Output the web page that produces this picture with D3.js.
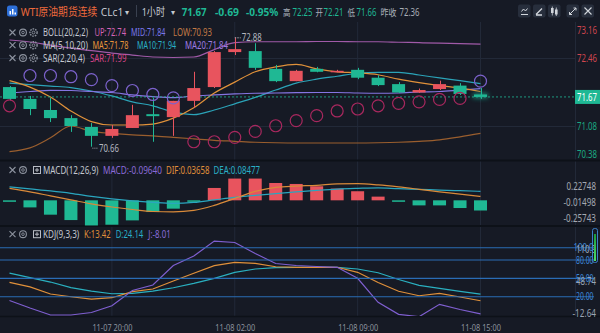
<!DOCTYPE html>
<html><head><meta charset="utf-8">
<script src="https://cdn.jsdelivr.net/npm/d3@7"></script>
<style>
html,body{margin:0;padding:0;background:#161a25;overflow:hidden}
svg{display:block}
text{font-family:"Noto Sans","Noto Sans CJK SC",sans-serif}
</style></head><body>
<svg id="c" width="600" height="333"></svg>
<script>
// ---- data: WTI crude continuous (CLc1), 1-hour bars ----
const times = ["11-07 15:00","11-07 16:00","11-07 17:00","11-07 18:00","11-07 19:00","11-07 20:00",
  "11-07 21:00","11-07 22:00","11-07 23:00","11-08 00:00","11-08 01:00","11-08 02:00","11-08 03:00",
  "11-08 04:00","11-08 05:00","11-08 07:00","11-08 08:00","11-08 09:00","11-08 10:00","11-08 11:00",
  "11-08 12:00","11-08 13:00","11-08 14:00","11-08 15:00"];
const opens  = [71.87,71.63,71.405,71.24,71.06,70.88,71.04,71.32,71.26,71.59,71.87,72.58,72.60,72.24,71.99,72.24,72.18,72.22,72.06,71.93,71.76,71.83,71.90,71.72];
const highs  = [71.89,71.69,71.65,71.30,71.14,71.10,71.51,71.65,71.59,72.18,72.60,72.88,72.76,72.32,72.22,72.28,72.22,72.26,72.11,71.97,71.84,72.00,71.95,71.85];
const lows   = [71.60,71.30,71.16,70.96,70.66,70.84,71.04,70.76,70.88,71.45,71.85,72.52,72.22,71.97,71.99,72.17,72.17,72.03,71.89,71.75,71.75,71.81,71.71,71.63];
const closes = [71.63,71.425,71.24,71.08,70.88,71.02,71.30,71.28,71.59,71.85,72.58,72.64,72.26,71.99,72.20,72.18,72.20,72.06,71.91,71.76,71.81,71.93,71.73,71.67];

const bollUp  = [72.825,72.785,72.72,72.66,72.61,72.56,72.52,72.48,72.47,72.48,72.63,72.77,72.79,72.79,72.79,72.795,72.795,72.79,72.79,72.78,72.77,72.76,72.75,72.74];
const bollMid = [71.75,71.78,71.805,71.80,71.78,71.76,71.71,71.675,71.655,71.69,71.71,71.73,71.745,71.75,71.756,71.76,71.76,71.75,71.745,71.75,71.77,71.78,71.81,71.84];
const bollLow = [70.56,70.635,70.84,71.08,70.97,70.93,70.90,70.88,70.85,70.82,70.79,70.77,70.75,70.74,70.735,70.735,70.735,70.735,70.74,70.75,70.77,70.80,70.86,70.93];
const ma5  = [72.00,71.87,71.67,71.385,71.17,71.10,71.10,71.12,71.24,71.45,71.75,71.97,72.18,72.28,72.33,72.24,72.18,72.16,72.12,72.03,71.96,71.90,71.85,71.78];
const ma10 = [71.95,71.92,71.89,71.86,71.79,71.69,71.57,71.49,71.365,71.31,71.405,71.53,71.66,71.81,71.95,72.03,72.09,72.15,72.17,72.17,72.115,72.055,72.00,71.94];
const sar  = [71.49,72.105,72.105,72.08,72.02,71.90,71.80,71.72,71.65,70.76,70.76,70.85,70.97,71.085,71.19,71.29,71.385,71.425,71.49,71.54,71.57,71.62,71.64,71.99];

const dif  = [0.113,0.080,0.042,0.004,-0.034,-0.063,-0.087,-0.106,-0.110,-0.096,-0.048,0.018,0.085,0.123,0.135,0.142,0.156,0.158,0.146,0.127,0.104,0.080,0.059,0.03658];
const dea  = [0.127,0.108,0.089,0.066,0.037,0.013,-0.006,-0.020,-0.029,-0.020,0.004,0.028,0.047,0.063,0.080,0.094,0.106,0.113,0.118,0.110,0.104,0.097,0.091,0.08477];
const macdHist = [-0.010,-0.067,-0.136,-0.187,-0.238,-0.231,-0.190,-0.111,-0.079,-0.010,0.117,0.206,0.206,0.164,0.155,0.133,0.111,0.086,0.035,-0.012,-0.048,-0.048,-0.073,-0.0964];

const kVals = [43.5,36.2,24.4,20.0,16.2,18.4,28.2,32.6,45.7,58.3,70.7,76.2,74.6,69.0,68.1,68.1,68.1,59.9,43.2,29.0,21.6,25.6,19.5,13.42];
const dVals = [58.7,51.1,44.0,35.0,29.3,24.9,25.6,29.3,34.7,41.9,50.1,59.9,65.3,67.4,68.1,68.1,68.1,65.3,59.2,48.1,38.6,33.7,28.8,24.14];
const jVals = [13.8,1.5,-9.9,-9.9,-5.8,5.3,30.1,39.1,71.0,86.5,110.9,108.6,90.6,74.3,71.0,69.4,68.1,50.1,10.8,-8.8,-12.64,7.6,-0.9,-8.01];

const timeTicks = ["11-07 20:00","11-08 02:00","11-08 09:00","11-08 15:00"];
const priceTicks = [73.16,72.46,71.08,70.38];
const macdTicks = [0.22748,-0.01498,-0.25743];
const kdjLevels = [100,80,50,20];
const kdjRangeTicks = [110.9,48.74,-12.64];
const lastPrice = 71.67;

// ---- palette ----
const C = {
  bg:"#161a25", grid:"#222938", sep:"#0d1118", text:"#c4c8d0", dim:"#8c929e",
  up:"#e8545e", down:"#1fb894",
  bUp:"#a05aa8", bMid:"#8575e2", bLow:"#9a5e2e", ma5:"#e0913a", ma10:"#2ba3b8",
  sarHi:"#7c62cc", sarLo:"#a8285e",
  dif:"#d98a3a", dea:"#2aa6bf", kC:"#e0903a", dC:"#2ab0c0", jC:"#7f5fd0", lvl:"#2a6cb5"
};

const svg = d3.select("#c");
const W = 600, PLOT_R = 575;

// scales
const x = d3.scalePoint().domain(times).range([9.5, 480.5]);
const yP = d3.scaleLinear().domain([70.38, 73.16]).range([160.5, 23.5]);
const yM = d3.scaleLinear().domain([-0.25743, 0.22748]).range([227.5, 176.3]);
const yK = d3.scaleLinear().domain([-12.64, 110.9]).range([316.7, 241.1]);
const xi = i => x(times[i]);

svg.append("rect").attr("width", W).attr("height", 333).attr("fill", C.bg);

const defs = svg.append("defs");
defs.append("clipPath").attr("id","cpMain").append("rect").attr("x",0).attr("y",22).attr("width",PLOT_R).attr("height",139);
defs.append("clipPath").attr("id","cpMacd").append("rect").attr("x",0).attr("y",162).attr("width",PLOT_R).attr("height",64);
defs.append("clipPath").attr("id","cpKdj").append("rect").attr("x",0).attr("y",227).attr("width",PLOT_R).attr("height",89);
const glow = defs.append("filter").attr("id","glow").attr("x","-100%").attr("y","-200%").attr("width","300%").attr("height","500%");
glow.append("feGaussianBlur").attr("stdDeviation",2.5);

// text helper: narrow face look — the glyphs are squeezed horizontally to a target width
function T(g, px, py, s, fill, size, opt = {}) {
  const t = g.append("text").attr("x", 0).attr("y", 0).text(s)
    .attr("fill", fill).attr("font-size", size);
  if (opt.weight) t.attr("font-weight", opt.weight);
  let sx = 1, w = opt.w;
  if (w) {
    const natural = t.node().getComputedTextLength();
    sx = natural > 0 ? w / natural : 1;
  } else {
    w = t.node().getComputedTextLength();
  }
  const left = opt.right ? px - w : opt.center ? px - w / 2 : px;
  t.attr("transform", `translate(${left},${py}) scale(${sx},1)`);
  return t;
}

// ---- grid ----
const grid = svg.append("g");
timeTicks.forEach(t => {
  grid.append("line").attr("x1", x(t)).attr("x2", x(t)).attr("y1", 22).attr("y2", 316)
    .attr("stroke", C.grid).attr("stroke-width", 1);
});
[72.46, 71.08].forEach(v => {
  grid.append("line").attr("x1", 0).attr("x2", PLOT_R).attr("y1", Math.round(yP(v)) + 0.5).attr("y2", Math.round(yP(v)) + 0.5)
    .attr("stroke", C.grid);
});
grid.append("line").attr("x1", PLOT_R + 0.5).attr("x2", PLOT_R + 0.5).attr("y1", 22).attr("y2", 316).attr("stroke", C.grid);

// pane separators
[[160.5,2],[226,2],[316.5,1.5]].forEach(([yy, sw]) => {
  svg.append("line").attr("x1", 0).attr("x2", W).attr("y1", yy).attr("y2", yy).attr("stroke", C.sep).attr("stroke-width", sw);
});

// ---- main pane ----
const main = svg.append("g").attr("clip-path", "url(#cpMain)");
const lineP = d3.line().x((d, i) => xi(i)).y(d => yP(d)).curve(d3.curveMonotoneX);
[[bollUp, C.bUp], [bollLow, C.bLow], [ma10, C.ma10], [bollMid, C.bMid], [ma5, C.ma5]].forEach(([arr, col]) => {
  main.append("path").attr("d", lineP(arr)).attr("fill", "none").attr("stroke", col).attr("stroke-width", 1.2);
});

// last price dotted line
main.append("line").attr("x1", 0).attr("x2", PLOT_R).attr("y1", yP(lastPrice)).attr("y2", yP(lastPrice))
  .attr("stroke", C.down).attr("stroke-width", 1).attr("stroke-dasharray", "2,2").attr("opacity", 0.8);

// candles
const bw = 13;
const last = times.length - 1;
main.append("rect")
  .attr("x", xi(last) - bw / 2 - 1).attr("y", yP(Math.max(opens[last], closes[last])) - 1)
  .attr("width", bw + 2).attr("height", Math.abs(yP(opens[last]) - yP(closes[last])) + 2)
  .attr("fill", C.down).attr("opacity", 0.8).attr("filter", "url(#glow)");
times.forEach((t, i) => {
  const up = closes[i] >= opens[i];
  const col = up ? C.up : C.down;
  const cx = Math.round(xi(i)) + 0.5;
  main.append("line").attr("x1", cx).attr("x2", cx).attr("y1", yP(highs[i])).attr("y2", yP(lows[i]))
    .attr("stroke", col).attr("stroke-width", 1);
  const top = yP(Math.max(opens[i], closes[i]));
  const h = Math.max(1.5, Math.abs(yP(opens[i]) - yP(closes[i])));
  main.append("rect").attr("x", xi(i) - bw / 2).attr("y", top).attr("width", bw).attr("height", h).attr("fill", col);
});

// SAR dots
sar.forEach((v, i) => {
  main.append("circle").attr("cx", xi(i)).attr("cy", yP(v)).attr("r", 6)
    .attr("fill", "none").attr("stroke", v > closes[i] ? C.sarHi : C.sarLo).attr("stroke-width", 1.2);
});

// extreme markers
const hiIdx = d3.maxIndex(highs), loIdx = d3.minIndex(lows);
const mk = svg.append("g");
mk.append("line").attr("x1", xi(hiIdx)).attr("x2", xi(hiIdx) + 6).attr("y1", yP(highs[hiIdx]) + 0.5).attr("y2", yP(highs[hiIdx]) + 0.5)
  .attr("stroke", "#9aa0aa").attr("stroke-dasharray", "1.5,1");
T(mk, xi(hiIdx) + 7, yP(highs[hiIdx]) + 3.5, highs[hiIdx].toFixed(2), "#b4b8c0", 10, {w: 20});
mk.append("line").attr("x1", xi(loIdx) + 1).attr("x2", xi(loIdx) + 7).attr("y1", yP(lows[loIdx]) + 1.5).attr("y2", yP(lows[loIdx]) + 1.5)
  .attr("stroke", "#9aa0aa").attr("stroke-dasharray", "1,1");
T(mk, xi(loIdx) + 7.5, yP(lows[loIdx]) + 5.5, lows[loIdx].toFixed(2), "#b4b8c0", 10, {w: 20});

// price axis labels
const pAx = svg.append("g");
priceTicks.forEach(v => {
  const yy = Math.min(158, Math.max(34, yP(v) + 3.8));
  T(pAx, 597, yy, v.toFixed(2), v > lastPrice ? "#d0464f" : "#1ba882", 10.5, {right: true, w: 20});
});
pAx.append("rect").attr("x", 575).attr("y", yP(lastPrice) - 7).attr("width", 25).attr("height", 14).attr("fill", C.down);
T(pAx, 597, yP(lastPrice) + 3.8, lastPrice.toFixed(2), "#ffffff", 10.5, {right: true, w: 20});

// ---- MACD pane ----
const mg = svg.append("g").attr("clip-path", "url(#cpMacd)");
macdHist.forEach((v, i) => {
  const y0 = yM(0), y1 = yM(v);
  const h = Math.max(1.5, Math.abs(y1 - y0));
  mg.append("rect").attr("x", xi(i) - bw / 2).attr("y", v >= 0 ? y0 - h : y0).attr("width", bw).attr("height", h)
    .attr("fill", v >= 0 ? C.up : C.down);
});
const lineM = d3.line().x((d, i) => xi(i)).y(d => yM(d)).curve(d3.curveMonotoneX);
mg.append("path").attr("d", lineM(dea)).attr("fill", "none").attr("stroke", C.dea).attr("stroke-width", 1.2);
mg.append("path").attr("d", lineM(dif)).attr("fill", "none").attr("stroke", C.dif).attr("stroke-width", 1.2);
const mAx = svg.append("g");
macdTicks.forEach(v => {
  const yy = Math.min(221.5, Math.max(190, yM(v) + 3.8));
  T(mAx, 596, yy, v.toFixed(5), "#a4a9b2", 10.5, {right: true, w: v < 0 ? 32.5 : 29.5});
});

// ---- KDJ pane ----
const kg = svg.append("g").attr("clip-path", "url(#cpKdj)");
kdjLevels.forEach(v => {
  svg.append("line").attr("x1", 0).attr("x2", 594).attr("y1", yK(v)).attr("y2", yK(v)).attr("stroke", C.lvl).attr("stroke-width", 1.2);
});
const lineK = d3.line().x((d, i) => xi(i)).y(d => yK(d));
[[dVals, C.dC], [kVals, C.kC], [jVals, C.jC]].forEach(([arr, col]) => {
  kg.append("path").attr("d", lineK(arr)).attr("fill", "none").attr("stroke", col).attr("stroke-width", 1.2);
});
// level labels and range labels share the right edge and sit on top of each other there
const kAx = svg.append("g");
kdjLevels.forEach(v => {
  T(kAx, 593.5, yK(v) + 3.5, v >= 100 ? v.toFixed(1) : v.toFixed(2), "#3d86d6", 10, {right: true, w: v >= 100 ? 20 : 17.5});
});
kdjRangeTicks.forEach(v => {
  const yy = Math.min(316.5, Math.max(253, yK(v) + 5.5));
  T(kAx, 596, yy, v.toFixed(2).replace(/^(\d{3}\.\d)\d$/, "$1"), "#9aa4b4", 10, {right: true, w: v < 0 ? 23.5 : 20});
});
// scroll handle
svg.append("rect").attr("x", 592.5).attr("y", 228.5).attr("width", 5).attr("height", 34).attr("rx", 2)
  .attr("fill", "none").attr("stroke", "#3b7fc8").attr("stroke-width", 1);
const sg = defs.append("linearGradient").attr("id", "sg").attr("x1", 0).attr("x2", 0).attr("y1", 0).attr("y2", 1);
sg.append("stop").attr("offset", "0").attr("stop-color", "#1a9a3a");
sg.append("stop").attr("offset", "1").attr("stop-color", "#4ee06a");
svg.append("rect").attr("x", 594).attr("y", 234).attr("width", 2).attr("height", 27).attr("fill", "url(#sg)");

// ---- time axis ----
const tAx = svg.append("g").attr("transform", "translate(0,318)")
  .call(d3.axisBottom(x).tickValues(timeTicks).tickSize(0).tickPadding(6));
tAx.select(".domain").remove();
tAx.selectAll("text").attr("fill", "#8c929e").attr("font-size", 9.5).attr("font-family", "Noto Sans, sans-serif")
  .attr("textLength", 40).attr("lengthAdjust", "spacingAndGlyphs");

// ---- legend rows ----
function rowIcons(g, yc, third) {
  const ic = "#8c929e";
  g.append("path").attr("d", `M9.5,${yc-3}L15.5,${yc+3}M15.5,${yc-3}L9.5,${yc+3}`).attr("stroke", ic).attr("stroke-width", 1.1);
  g.append("circle").attr("cx", 23).attr("cy", yc).attr("r", 3.4).attr("fill", "none").attr("stroke", ic).attr("stroke-width", 1.1);
  g.append("circle").attr("cx", 23).attr("cy", yc).attr("r", 1.3).attr("fill", "none").attr("stroke", ic).attr("stroke-width", 0.9);
  if (third === "gear") {
    g.append("circle").attr("cx", 33.5).attr("cy", yc).attr("r", 3.6).attr("fill", "none").attr("stroke", ic).attr("stroke-width", 1.4).attr("stroke-dasharray", "1.6,1");
    g.append("circle").attr("cx", 33.5).attr("cy", yc).attr("r", 1.4).attr("fill", "none").attr("stroke", ic).attr("stroke-width", 0.9);
  } else {
    g.append("rect").attr("x", 33.5).attr("y", yc - 3.5).attr("width", 7).attr("height", 7).attr("fill", "none").attr("stroke", "#b8bcc4").attr("stroke-width", 1);
    g.append("path").attr("d", `M37,${yc-2}V${yc+2}M35,${yc}H39`).attr("stroke", "#b8bcc4").attr("stroke-width", 1);
  }
}
const lg = svg.append("g");
const legendRows = [
  {y: 36, icon: "gear", items: [["BOLL(20,2,2)", C.text, 43, 45], ["UP:72.74", "#d563b5", 94.5, 31.5], ["MID:71.84", "#7a78ea", 131, 34.5], ["LOW:70.93", "#c27a45", 173, 39]]},
  {y: 48.7, icon: "gear", items: [["MA(5,10,20)", C.text, 43, 45], ["MA5:71.78", "#e8963a", 92.5, 36], ["MA10:71.94", "#2ab2c8", 137, 39], ["MA20:71.84", "#9b7ae2", 185, 43]]},
  {y: 61.5, icon: "gear", items: [["SAR(2,20,4)", C.text, 43, 42], ["SAR:71.99", "#d64489", 90, 36.5]]},
  {y: 173.5, icon: "box", items: [["MACD(12,26,9)", C.text, 43, 55.5], ["MACD:-0.09640", "#8a6ad8", 103, 59], ["DIF:0.03658", "#e0903a", 166, 43.5], ["DEA:0.08477", "#2ab0c8", 213.5, 46.5]]},
  {y: 237.7, icon: "box", items: [["KDJ(9,3,3)", C.text, 43, 36.3], ["K:13.42", "#e0903a", 84, 26.7], ["D:24.14", "#2ab0c8", 115.7, 27.6], ["J:-8.01", "#8a6ad8", 148.3, 22.4]]}
];
legendRows.forEach(r => {
  rowIcons(lg, r.y - 3.5, r.icon);
  r.items.forEach(([s, col, px, w]) => T(lg, px, r.y, s, col, 10, {w}));
});

// ---- header ----
const hd = svg.append("g");
hd.append("rect").attr("x", 7).attr("y", 5.5).attr("width", 10.5).attr("height", 11).attr("rx", 2.5).attr("fill", "#2d6fd8");
[[9.5,11,1.5],[12,9,1.5],[14.5,12.5,1.5]].forEach(([bx, by, bwid]) => {
  hd.append("rect").attr("x", bx).attr("y", by).attr("width", bwid).attr("height", 14.5 - by).attr("fill", "#ffffff");
});
const hy = 15.5;
T(hd, 20.7, hy, "WTI原油期货连续", "#ee6a3c", 11, {w: 76.6});
T(hd, 100.7, hy, "CLc1", C.text, 11, {w: 22.6});
T(hd, 125, hy - 1, "▾", C.text, 8);
hd.append("line").attr("x1", 136.5).attr("x2", 136.5).attr("y1", 5).attr("y2", 17).attr("stroke", "#3a4150");
T(hd, 141.7, hy, "1小时", C.text, 11, {w: 23.3});
T(hd, 171, hy - 1, "▾", C.text, 8);
T(hd, 181.7, hy, "71.67", C.down, 11, {weight: 700, w: 25});
T(hd, 215, hy, "-0.69", C.down, 11, {weight: 700, w: 24});
T(hd, 246, hy, "-0.95%", C.down, 11, {weight: 700, w: 32.3});
const stats = [["高", 283, 7.5, "72.25", 292.5, C.down], ["开", 315.5, 7.5, "72.21", 323.5, C.down], ["低", 347.5, 7.5, "71.66", 356.5, C.down], ["昨收", 380.5, 16, "72.36", 399.5, "#a8adb6"]];
stats.forEach(([lab, lx, lw, val, vx, col]) => {
  T(hd, lx, hy, lab, "#aab0ba", 9.5, {w: lw});
  T(hd, vx, hy, val, col, 10, {w: 20});
});
// toolbar buttons
const btnX = [518, 533, 548, 566.5, 581.5];
btnX.forEach(bx => hd.append("rect").attr("x", bx).attr("y", 4.5).attr("width", 12.5).attr("height", 13).attr("rx", 2).attr("fill", "#272e3c"));
const ic = "#d2d6dc";
hd.append("path").attr("d", "M521,14.5H528M521.5,11.5L523.5,9L525.5,11L527.5,8.5").attr("stroke", ic).attr("fill", "none").attr("stroke-width", 1);
hd.append("path").attr("d", "M536,14.5L542,8.5M536,15H542").attr("stroke", ic).attr("fill", "none").attr("stroke-width", 1.3);
hd.append("rect").attr("x", 551).attr("y", 8).attr("width", 2.6).attr("height", 5).attr("fill", ic);
hd.append("rect").attr("x", 555).attr("y", 9.5).attr("width", 2.6).attr("height", 5).attr("fill", ic);
hd.append("path").attr("d", "M552.3,6.5V15.5M556.3,7.5V16").attr("stroke", ic).attr("stroke-width", 0.8);
hd.append("path").attr("d", "M569.5,14.5L576,8M573.5,8H576V10.5M569.5,12V14.5H572").attr("stroke", ic).attr("fill", "none").attr("stroke-width", 1);
hd.append("path").attr("d", "M584.5,7.5L591.5,14.5M591.5,7.5L584.5,14.5").attr("stroke", ic).attr("stroke-width", 1.1);
</script>
</body></html>
